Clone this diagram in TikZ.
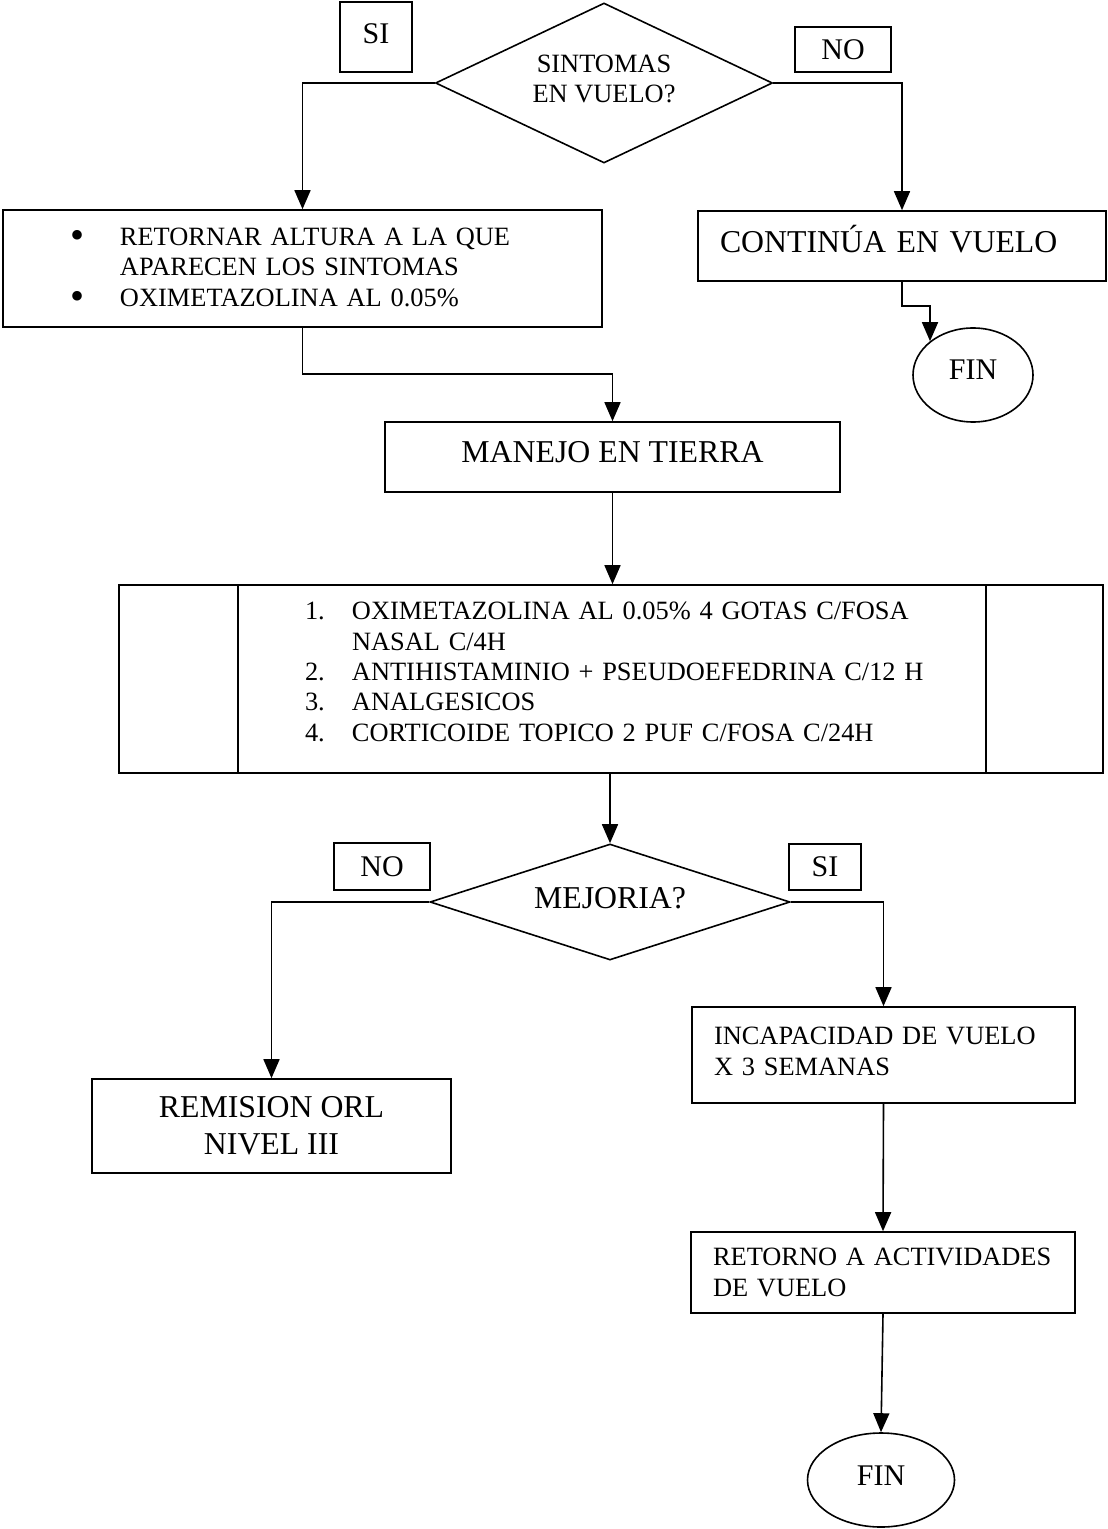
\documentclass[tikz,border=0pt]{standalone}
\usepackage{fontspec}
\setmainfont{Liberation Serif}
\usetikzlibrary{shapes.geometric,arrows.meta}

\newcommand{\bul}{\raisebox{-1.5pt}{\fontsize{20}{15}\selectfont\textbullet}}

\begin{document}
\begin{tikzpicture}[x=0.5pt,y=-0.5pt,line width=0.8pt,
	blk/.append style={draw,rectangle,inner sep=0pt,font=\fontsize{13.2}{15.2}\selectfont},
	lblk/.append style={blk,align=left},
	big/.append style={font=\fontsize{15.9}{18.5}\selectfont},
	dec/.append style={draw,diamond,inner sep=0pt,aspect=2,align=center},
	fin/.append style={draw,ellipse,inner sep=0pt,minimum height=47pt,font=\fontsize{15}{18}\selectfont},
	lbl/.append style={draw,rectangle,inner sep=0pt,font=\fontsize{15}{18}\selectfont},
	a/.append style={->,>={Triangle[length=9.5pt,width=8pt]}}]
\useasboundingbox (0,0) rectangle (1107,1529);
% decision 1
\node[lbl,minimum width=36pt,minimum height=35pt,text depth=3pt] (si1) at (376,37) {SI};
\node[lbl,minimum width=48pt,minimum height=22.5pt] (no1) at (843,49.5) {NO};
\node[dec,font=\fontsize{13.2}{15.2}\selectfont,minimum width=168.5pt,minimum height=80pt,text depth=4pt] (sint) at (604,83) {SINTOMAS\\EN VUELO?};
\node[lblk,text width=299.5pt,minimum height=58.5pt] (alt) at (302.5,268.5) {%
\hspace*{34pt}\makebox[24.5pt][l]{\bul}RETORNAR ALTURA A LA QUE\\
\hspace*{58.5pt}APARECEN LOS SINTOMAS\\
\hspace*{34pt}\makebox[24.5pt][l]{\bul}OXIMETAZOLINA AL 0.05\%};
\node[lblk,big,text width=204pt,minimum height=35pt,text depth=7pt] (cont) at (902,246) {\hspace*{11pt}CONTINÚA EN VUELO};
\node[fin,minimum width=60pt,text depth=5pt] (fin1) at (973,375) {FIN};
% manejo
\node[blk,big,minimum width=227.5pt,minimum height=35pt,text depth=5pt] (tierra) at (612.5,457) {MANEJO EN TIERRA};
\node[lblk,text width=492pt,minimum height=94pt,text depth=68pt] (trat) at (611,679) {%
\hspace*{93pt}\makebox[23.5pt][l]{1.}OXIMETAZOLINA AL 0.05\% 4 GOTAS C/FOSA\\
\hspace*{116.5pt}NASAL C/4H\\
\hspace*{93pt}\makebox[23.5pt][l]{2.}ANTIHISTAMINIO + PSEUDOEFEDRINA C/12 H\\
\hspace*{93pt}\makebox[23.5pt][l]{3.}ANALGESICOS\\
\hspace*{93pt}\makebox[23.5pt][l]{4.}CORTICOIDE TOPICO 2 PUF C/FOSA C/24H};
\draw ([xshift=60pt]trat.north west) -- ([xshift=60pt]trat.south west);
\draw ([xshift=-59pt]trat.north east) -- ([xshift=-59pt]trat.south east);
% decision 2
\node[lbl,minimum width=48pt,minimum height=23.5pt] (no2) at (382,866.5) {NO};
\node[lbl,minimum width=36pt,minimum height=23pt] (si2) at (825,867) {SI};
\node[dec,big,minimum width=180pt,minimum height=58pt,text depth=4pt] (mejo) at (610,902) {MEJORIA?};
\node[blk,big,align=center,minimum width=179.5pt,minimum height=47pt] (rem) at (271.5,1126) {REMISION ORL\\NIVEL III};
\node[lblk,text width=191.5pt,minimum height=48pt,text depth=19pt] (incap) at (883.5,1055) {%
\hspace*{11pt}INCAPACIDAD DE VUELO\\
\hspace*{11pt}X 3 SEMANAS};
\node[lblk,text width=192pt,minimum height=40.5pt] (retorno) at (883,1272.5) {%
\hspace*{11pt}RETORNO A ACTIVIDADES\\
\hspace*{11pt}DE VUELO};
\node[fin,minimum width=73.5pt,text depth=4pt] (fin2) at (881,1480) {FIN};
% connectors
\draw[a] (sint.west) -| (alt.north);
\draw[a] (sint.east) -| (cont.north);
\draw[a] (cont.south) -- ++(0,24) -| (fin1.north west);
\draw[a] (alt.south) -- ++(0,46) -| (tierra.north);
\draw[a] (tierra.south) -- (tierra.south |- trat.north);
\draw[a] (mejo.north |- trat.south) -- (mejo.north);
\draw[a] (mejo.west) -| (rem.north);
\draw[a] (mejo.east) -| (incap.north);
\draw[a] (incap.south) -- (retorno.north);
\draw[a] (retorno.south) -- (fin2.north);
\end{tikzpicture}
\end{document}
